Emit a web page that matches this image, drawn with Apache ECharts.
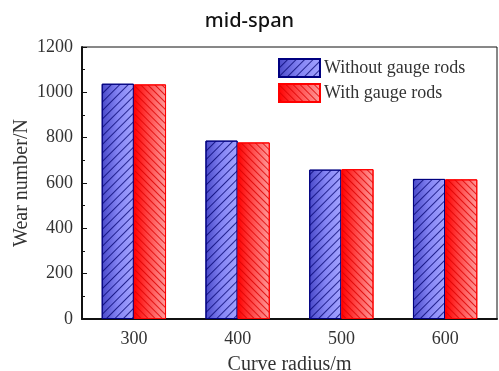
<!DOCTYPE html>
<html>
<head>
<meta charset="utf-8">
<script src="https://cdn.jsdelivr.net/npm/echarts@6/dist/echarts.min.js"></script>
<style>
    html, body { margin: 0; padding: 0; background: #fff; }
    #chart { width: 499px; height: 371px; }
</style>
</head>
<body>
<div id="chart"></div>
<script>
// curve radius categories
const radii = ['300', '400', '500', '600']
const withoutRods = [1038, 787, 659, 618]
const withRods = [1035, 779, 661, 616]
const seriesNames = ['Without gauge rods', 'With gauge rods']

const serif = 'Liberation Serif'

function grad(stops) {
    return new echarts.graphic.LinearGradient(0, 0, 1, 0, stops.map((c, i) => ({offset: i / (stops.length - 1), color: c})))
}

const chart = echarts.init(document.getElementById('chart'))
chart.setOption({
    animation: false,
    title: {
        text: 'mid-span',
        left: 'center',
        top: 6,
        textStyle: {fontFamily: 'Noto Sans', fontSize: 20, fontWeight: 500, color: '#111'}
    },
    legend: {
        data: seriesNames,
        orient: 'vertical',
        left: 273,
        top: 53,
        icon: 'rect',
        itemWidth: 41,
        itemHeight: 18,
        itemGap: 5,
        textStyle: {fontFamily: serif, fontSize: 18, color: '#333', padding: [0, 0, 0, -1]}
    },
    grid: {
        left: 82, right: 2, top: 47, bottom: 52,
        outerBoundsMode: 'none',
        containLabel: false,
        show: true, borderColor: '#111', borderWidth: 1
    },
    xAxis: {
        type: 'category',
        data: radii,
        name: 'Curve radius/m',
        nameLocation: 'middle',
        nameGap: 36,
        nameMoveOverlap: false,
        nameTextStyle: {fontFamily: serif, fontSize: 20, color: '#333'},
        axisLine: {lineStyle: {color: '#111', width: 2}},
        axisTick: {inside: true, length: 4, lineStyle: {color: '#111'}},
        axisLabel: {fontFamily: serif, fontSize: 18, color: '#333', margin: 11}
    },
    yAxis: {
        type: 'value',
        min: 0,
        max: 1200,
        interval: 200,
        name: 'Wear number/N',
        nameLocation: 'middle',
        nameGap: 50,
        nameMoveOverlap: false,
        nameTextStyle: {fontFamily: serif, fontSize: 20, color: '#333'},
        axisLine: {show: true, lineStyle: {color: '#111', width: 2}},
        axisTick: {show: true, inside: true, length: 5, lineStyle: {color: '#111'}},
        minorTick: {show: true, splitNumber: 2, length: 3, lineStyle: {color: '#111'}},
        splitLine: {show: false},
        axisLabel: {fontFamily: serif, fontSize: 18, color: '#333', margin: 9, formatter: v => String(v)}
    },
    series: [
        {
            name: seriesNames[0],
            type: 'bar',
            data: withoutRods,
            barGap: '0%',
            barCategoryGap: '38%',
            itemStyle: {
                color: grad(['#4848c8', '#8484f4', '#a4a4ff']),
                borderColor: '#000080',
                borderWidth: 1,
                decal: {
                    symbol: 'rect',
                    symbolSize: 1,
                    dashArrayX: [1, 0],
                    dashArrayY: [1, 4.5],
                    rotation: -Math.PI / 4,
                    color: 'rgba(0,0,110,0.75)'
                }
            }
        },
        {
            name: seriesNames[1],
            type: 'bar',
            data: withRods,
            itemStyle: {
                color: grad(['#ff0000', '#ff5050', '#ff9c9c']),
                borderColor: '#ff0000',
                borderWidth: 1,
                decal: {
                    symbol: 'rect',
                    symbolSize: 1,
                    dashArrayX: [1, 0],
                    dashArrayY: [1, 3.2],
                    rotation: Math.PI / 4,
                    color: 'rgba(220,0,0,0.8)'
                }
            }
        }
    ]
})
</script>
</body>
</html>
